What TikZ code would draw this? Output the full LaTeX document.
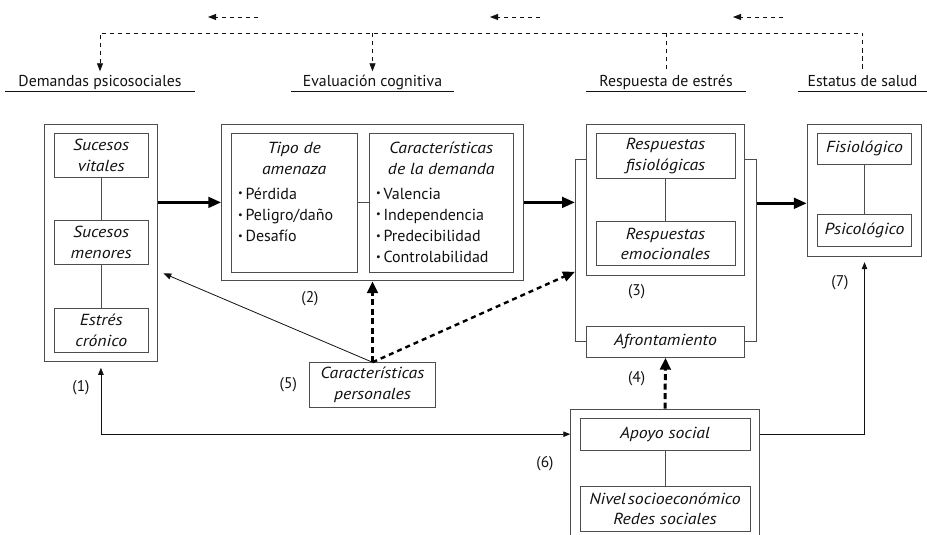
\documentclass[tikz,border=0pt]{standalone}
\usepackage{fontspec}
\setmainfont{PT Sans}[ItalicFeatures={FakeStretch=1.11}]
\usetikzlibrary{arrows.meta,positioning}

\definecolor{ink}{HTML}{111111}
\definecolor{frame}{HTML}{4D4D4D}

\tikzset{
        box/.style={draw=frame, line width=0.9pt, inner sep=0pt, align=center,
                text=ink, font=\fontsize{16}{20.5}\selectfont\itshape},
        txt/.style={inner sep=0pt, align=center, text=ink,
                font=\fontsize{16}{20.7}\selectfont\itshape},
        items/.style={inner sep=0pt, align=left, text=ink,
                font=\fontsize{16}{21.3}\selectfont},
        head/.style={inner xsep=0pt, inner ysep=4.5pt, text height=11pt, text depth=0pt,
                text=ink, font=\fontsize{15.8}{18}\selectfont},
        lbl/.style={inner sep=0pt, text=ink, font=\fontsize{15.5}{17}\selectfont},
        link/.style={draw=frame, line width=0.8pt},
        big/.style={line width=3.2pt, -{Triangle[length=13pt,width=10.5pt]}},
        bigdash/.style={line width=3pt, dash pattern=on 6pt off 3.5pt,
                -{Triangle[length=12pt,width=10.5pt]}},
        diagdash/.style={line width=2.4pt, dash pattern=on 5pt off 4pt,
                -{Triangle[length=12pt,width=10pt]}},
        thinarrow/.style={line width=0.8pt, draw=ink, {Triangle[length=7pt,width=5.5pt]}-{Triangle[length=7pt,width=5.5pt]}},
        tdash/.style={line width=0.8pt, draw=ink, dash pattern=on 4.5pt off 3.5pt}
}
\def\bl{\raisebox{0.3ex}{\scalebox{0.65}{\textbullet}}\,}

\begin{document}
\begin{tikzpicture}[x=1pt, y=-1pt]
        \useasboundingbox (0,0) rectangle (927,535);

        % cabeceras
        \node[head, anchor=base, minimum width=190pt] (hdem)  at (100,87) {Demandas psicosociales};
        \node[head, anchor=base, minimum width=163pt] (heval) at (372.5,87) {Evaluación cognitiva};
        \node[head, anchor=base, minimum width=160pt] (hresp) at (666,87) {Respuesta de estrés};
        \node[head, anchor=base, minimum width=129pt] (hstat) at (862.5,87) {Estatus de salud};
        \foreach \h in {hdem,heval,hresp,hstat}
                \draw[line width=0.8pt, ink] (\h.south west) -- (\h.south east);

        \draw[tdash, {Triangle[length=8pt,width=6pt]}-] (hdem.north) -- (hdem.north |- 0,33) -| (hstat.north);
        \draw[tdash, -{Triangle[length=8pt,width=6pt]}] (heval.north |- 0,33) -- (heval.north);
        \draw[tdash] (hresp.north |- 0,33) -- (hresp.north);
        \foreach \a in {258,540,783}
                \draw[tdash, -{Triangle[length=8pt,width=6pt]}] (\a,17) -- (\a-50,17);

        % (1) demandas
        \node[box, minimum width=113.7pt, minimum height=237.7pt] (dem) at (100.9,242.9) {};
        \node[box, minimum width=94.3pt, minimum height=44.4pt] (vit)  at (101.2,155.5) {Sucesos\\vitales};
        \node[box, minimum width=94.3pt, minimum height=43.6pt] (men)  at (101.2,242.5) {Sucesos\\menores};
        \node[box, minimum width=94.3pt, minimum height=44pt]   (cron) at (101.2,330.3) {Estrés\\crónico};
        \draw[link] (vit) -- (men) -- (cron);

        % (2) evaluacion
        \node[box, minimum width=301.6pt, minimum height=156.7pt] (eval) at (372.5,202.4) {};
        \node[box, minimum width=126.3pt, minimum height=138.7pt] (tipo) at (294.2,202.7) {};
        \node[box, minimum width=144pt, minimum height=138.7pt]   (carac) at (441.3,202.7) {};
        \draw[link] (tipo) -- (carac);
        \node[txt, anchor=north] (tipoT) at (294.2,142) {Tipo de\\amenaza};
        \node[items, anchor=north west] (tipoL) at (238,187.5) {\bl Pérdida\\\bl Peligro/daño\\\bl Desafío};
        \node[txt, anchor=north] (caracT) at (441.3,142) {Características\\de la demanda};
        \node[items, anchor=north west] (caracL) at (376,187.5) {\bl Valencia\\\bl Independencia\\\bl Predecibilidad\\\bl Controlabilidad};

        % (3) respuesta
        \node[box, minimum width=157.6pt, minimum height=151pt] (resp) at (665.5,199.5) {};
        \node[box, minimum width=139pt, minimum height=45pt] (fisi) at (665.5,155.8) {Respuestas\\fisiológicas};
        \node[box, minimum width=139pt, minimum height=44pt] (emoc) at (665.5,243.7) {Respuestas\\emocionales};
        \node[box, minimum width=157.6pt, minimum height=31.3pt] (afro) at (665.5,341.6) {Afrontamiento};
        \draw[link] (fisi) -- (emoc);
        \coordinate (brl) at (575,203.3);
        \coordinate (brr) at (756.7,203.3);
        \draw[link] (afro.west) -| (brl |- 0,159.3) -- (resp.west |- 0,159.3);
        \draw[link] (afro.east) -| (brr |- 0,159.3) -- (resp.east |- 0,159.3);

        % (7) salud
        \node[box, minimum width=114.4pt, minimum height=132pt] (salud) at (864.5,190) {};
        \node[box, minimum width=94.4pt, minimum height=31pt] (fisio) at (864.5,148.8) {Fisiológico};
        \node[box, minimum width=94.4pt, minimum height=32pt] (psico) at (864.5,230) {Psicológico};
        \draw[link] (fisio) -- (psico);

        % (5) y (6)
        \node[box, minimum width=126.4pt, minimum height=44.6pt] (pers) at (372.5,385) {Características\\personales};
        \node[box, minimum width=188.6pt, minimum height=136pt] (apoyoO) at (665,477) {};
        \node[box, minimum width=170pt, minimum height=31.7pt] (apoyo) at (665,434.2) {Apoyo social};
        \node[box, minimum width=170pt, minimum height=44.3pt] (nivel) at (665,508.9) {Nivel\hspace{0.12em}socioeconómico\\Redes sociales};
        \draw[link] (apoyo) -- (nivel);

        % flechas
        \draw[big] (dem.east |- eval.west) -- (eval.west);
        \draw[big] (eval.east) -- (eval.east -| brl);
        \draw[big] (brr) -- (salud.west |- brr);
        \coordinate (demR) at (163.3,273.3);
        \draw[line width=0.8pt, draw=ink, -{Triangle[length=8pt,width=6pt]}] (pers.north) -- (demR);
        \draw[bigdash] (pers.north) -- (eval.south);
        \draw[diagdash] (pers.north) -- (brl |- 0,271.7);
        \draw[bigdash] (apoyoO.north) -- (afro.south);
        \draw[thinarrow] ([yshift=-5.6pt]dem.south) |- (apoyoO.west |- apoyo);
        \draw[line width=0.8pt, draw=ink, -{Triangle[length=7pt,width=5.5pt]}] (apoyoO.east |- apoyo) -| ([yshift=-5.7pt]salud.south);

        % numeros
        \node[lbl] (n1) at (81,387.7) {(1)};
        \node[lbl] (n2) at (310,298.3) {(2)};
        \node[lbl] (n3) at (636.7,291.7) {(3)};
        \node[lbl] (n4) at (636.7,378.3) {(4)};
        \node[lbl] (n5) at (288.3,384.3) {(5)};
        \node[lbl] (n6) at (545,464) {(6)};
        \node[lbl] (n7) at (840,283) {(7)};
\end{tikzpicture}
\end{document}
